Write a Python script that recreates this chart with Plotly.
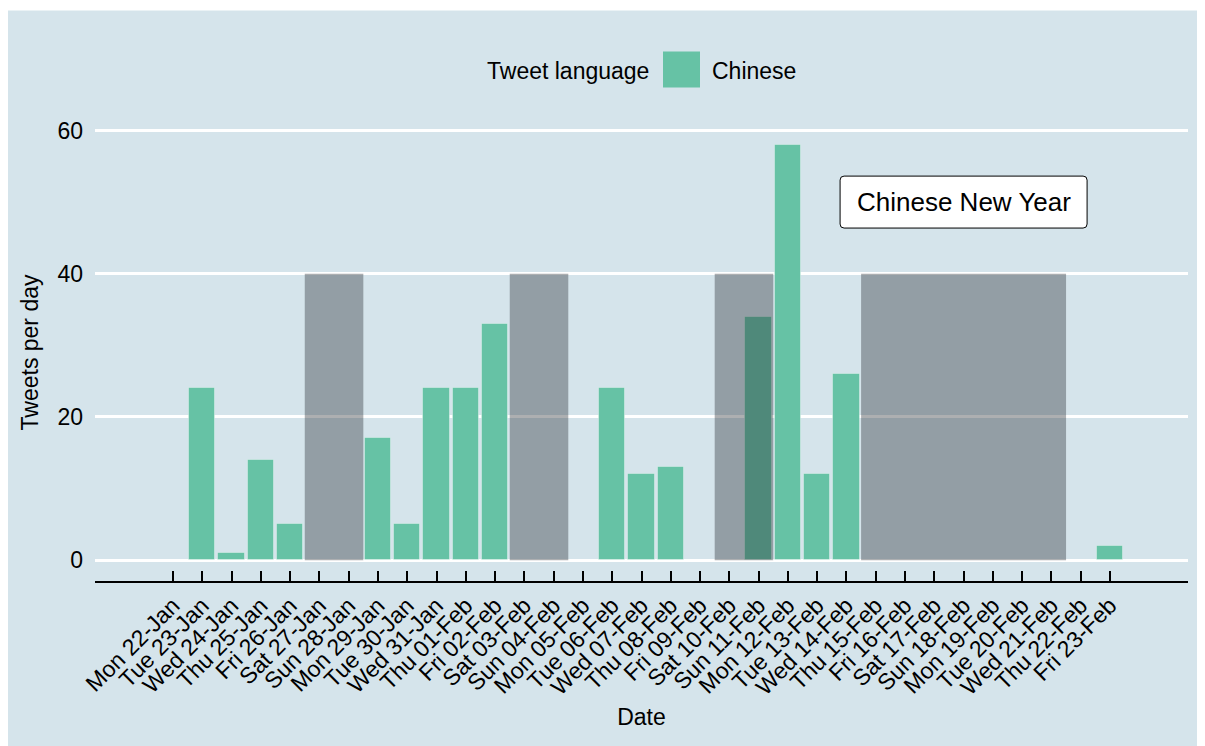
import plotly.graph_objects as go

# ---------------- data ----------------
date_labels = [
    "Mon 22-Jan", "Tue 23-Jan", "Wed 24-Jan", "Thu 25-Jan", "Fri 26-Jan", "Sat 27-Jan",
    "Sun 28-Jan", "Mon 29-Jan", "Tue 30-Jan", "Wed 31-Jan", "Thu 01-Feb", "Fri 02-Feb",
    "Sat 03-Feb", "Sun 04-Feb", "Mon 05-Feb", "Tue 06-Feb", "Wed 07-Feb", "Thu 08-Feb",
    "Fri 09-Feb", "Sat 10-Feb", "Sun 11-Feb", "Mon 12-Feb", "Tue 13-Feb", "Wed 14-Feb",
    "Thu 15-Feb", "Fri 16-Feb", "Sat 17-Feb", "Sun 18-Feb", "Mon 19-Feb", "Tue 20-Feb",
    "Wed 21-Feb", "Thu 22-Feb", "Fri 23-Feb",
]
chinese_tweets = [
    0, 24, 1, 14, 5, 0,
    0, 17, 5, 24, 24, 33,
    0, 0, 0, 24, 12, 13,
    0, 0, 34, 58, 12, 26,
    0, 0, 0, 0, 0, 0,
    0, 0, 2,
]
# shaded periods (first day, last day) and their height
shade_first = ["Sat 27-Jan", "Sat 03-Feb", "Sat 10-Feb", "Thu 15-Feb"]
shade_last = ["Sun 28-Jan", "Sun 04-Feb", "Sun 11-Feb", "Wed 21-Feb"]
shade_top = 40
annotation_text = "Chinese New Year"
annotation_day = "Sun 18-Feb"
annotation_y = 50

# ---------------- layout constants ----------------
OFF = 8  # page body margin
W, H = 1205, 746
ML = 95 - OFF
PR = 1188 - OFF           # plot right edge in figure px
PT = 123.5 - OFF          # plot top
PB = 580.8 - OFF          # plot bottom
MR = W - PR
MT = PT
MB = H - PB
PW, PH = PR - ML, PB - PT
BG = "#d5e4eb"
GREEN = "#66c2a5"
FONT = "Liberation Sans, Arial, sans-serif"
FS = 23

XMIN, XMAX = -2.664, 34.664
YMIN, YMAX = -2.9, 60.9


def px2x(px):  # page px -> paper
    return (px - OFF - ML) / PW


def py2y(py):  # page px -> paper
    return (PB - (py - OFF)) / PH


idx = list(range(len(date_labels)))
bx = [i for i, v in zip(idx, chinese_tweets) if v > 0]
by = [v for v in chinese_tweets if v > 0]

fig = go.Figure()
fig.add_trace(go.Bar(
    x=bx, y=by, width=0.9,
    marker=dict(color=GREEN, line=dict(color="rgba(255,255,255,0.35)", width=1)),
    name="Chinese", showlegend=False,
))

shapes = []
# thin white strip at the very top
shapes.append(dict(type="rect", xref="paper", yref="paper",
                   x0=px2x(-20), x1=px2x(W + 20), y0=py2y(10), y1=py2y(-5),
                   fillcolor="white", line=dict(width=0), layer="below"))
# shaded periods
for a, b in zip(shade_first, shade_last):
    shapes.append(dict(type="rect", xref="x", yref="y",
                       x0=date_labels.index(a) - 0.5, x1=date_labels.index(b) + 0.5,
                       y0=0, y1=shade_top,
                       fillcolor="rgba(45,48,54,0.39)", line=dict(width=0), layer="above"))
# legend key
shapes.append(dict(type="rect", xref="paper", yref="paper",
                   x0=px2x(663), x1=px2x(700), y0=py2y(87), y1=py2y(51),
                   fillcolor=GREEN, line=dict(width=0)))

# rounded label box around the annotation (centered on annotation anchor)
ax_paper = (date_labels.index(annotation_day) - XMIN) / (XMAX - XMIN)
ay_paper = (annotation_y - YMIN) / (YMAX - YMIN)
half_w, half_h, r = 123.5 / PW, 26 / PH, 4
rx, ry = r / PW, r / PH
x0b, x1b = ax_paper - half_w, ax_paper + half_w
y0b, y1b = ay_paper - half_h, ay_paper + half_h
path = (
    f"M {x0b + rx},{y0b} L {x1b - rx},{y0b} Q {x1b},{y0b} {x1b},{y0b + ry} "
    f"L {x1b},{y1b - ry} Q {x1b},{y1b} {x1b - rx},{y1b} "
    f"L {x0b + rx},{y1b} Q {x0b},{y1b} {x0b},{y1b - ry} "
    f"L {x0b},{y0b + ry} Q {x0b},{y0b} {x0b + rx},{y0b} Z"
)
shapes.append(dict(type="path", xref="paper", yref="paper", path=path,
                   fillcolor="white", line=dict(color="black", width=1), layer="above"))

annotations = [
    dict(x=date_labels.index(annotation_day), y=annotation_y, xref="x", yref="y",
         text=annotation_text, showarrow=False,
         font=dict(family=FONT, size=26, color="black")),
    dict(x=px2x(651), y=py2y(70), xref="paper", yref="paper", text="Tweet language",
         showarrow=False, xanchor="right", yanchor="middle",
         font=dict(family=FONT, size=FS, color="black")),
    dict(x=px2x(710), y=py2y(70), xref="paper", yref="paper", text="Chinese",
         showarrow=False, xanchor="left", yanchor="middle",
         font=dict(family=FONT, size=FS, color="black")),
]

fig.update_layout(
    width=W, height=H,
    margin=dict(l=ML, r=MR, t=MT, b=MB, autoexpand=False),
    paper_bgcolor=BG, plot_bgcolor=BG,
    font=dict(family=FONT, size=FS, color="black"),
    shapes=shapes, annotations=annotations,
    showlegend=False,
    bargap=0,
)
fig.update_xaxes(
    range=[XMIN, XMAX],
    tickmode="array", tickvals=idx, ticktext=date_labels, tickangle=-45,
    ticks="inside", ticklen=10, tickwidth=2, tickcolor="black",
    showline=True, linecolor="black", linewidth=2,
    showgrid=False, zeroline=False,
    tickfont=dict(family=FONT, size=FS, color="black"),
    title=dict(text="Date", standoff=10, font=dict(family=FONT, size=FS, color="black")),
    automargin=False,
)
fig.update_yaxes(
    range=[YMIN, YMAX],
    tickvals=[0, 20, 40, 60],
    showgrid=True, gridcolor="white", gridwidth=3,
    zeroline=False, showline=False, ticks="",
    ticklabelstandoff=11,
    tickfont=dict(family=FONT, size=FS, color="black"),
    title=dict(text="Tweets per day", standoff=12, font=dict(family=FONT, size=FS, color="black")),
    automargin=False,
)

fig.write_html(
    "out.html", default_width="1205px", default_height="746px",
    post_script="document.documentElement.style.overflow='hidden';"
                "document.body.style.overflow='hidden';",
)
